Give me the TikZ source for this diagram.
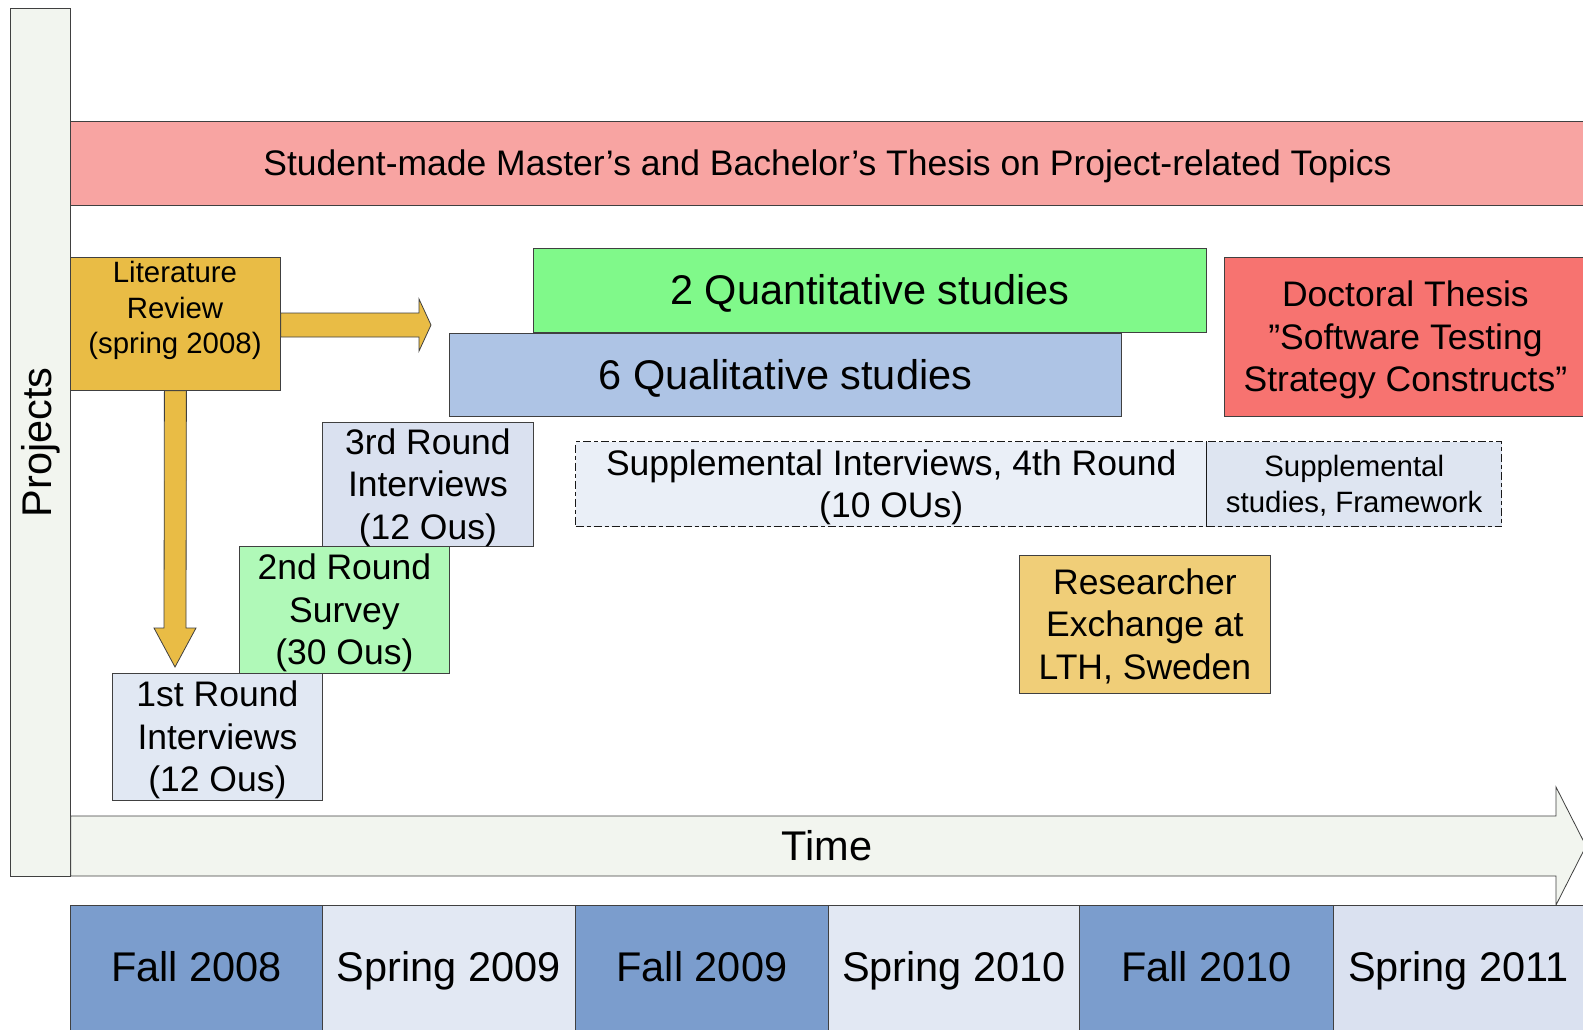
\documentclass[tikz,border=0pt]{standalone}
\usepackage{fontspec}
\setmainfont{Liberation Sans}
\definecolor{bgc}{HTML}{F2F5EF}
\definecolor{pinkband}{HTML}{F8A4A2}
\definecolor{gold}{HTML}{E9BC45}
\definecolor{quantc}{HTML}{80F98A}
\definecolor{qualc}{HTML}{AEC4E5}
\definecolor{doctc}{HTML}{F77370}
\definecolor{roundthree}{HTML}{DAE1F0}
\definecolor{roundone}{HTML}{E1E8F3}
\definecolor{roundtwo}{HTML}{B0F9B8}
\definecolor{resexc}{HTML}{F0CE78}
\definecolor{fallc}{HTML}{7B9DCD}
\definecolor{springc}{HTML}{E2E8F3}
\definecolor{supl}{HTML}{EAEFF7}
\definecolor{supr}{HTML}{DEE5F1}
\definecolor{linec}{HTML}{404040}
\newcommand\pstr{\rule[-0.212em]{0pt}{1.117em}}
\newcommand\semlbl[1]{\raisebox{3pt}[0.905em][0.212em]{#1}}
\begin{document}
\begin{tikzpicture}[x=1pt,y=-1pt,
  box/.style={draw=linec, line width=0.8pt, rectangle, inner sep=0pt, anchor=north west, align=center},
  fbig/.style={font=\fontsize{41.5pt}{48pt}\selectfont},
  fmid/.style={font=\fontsize{35.5pt}{42.4pt}\selectfont},
  fsmall/.style={font=\fontsize{29.4pt}{35.5pt}\selectfont},
  blockarrow/.style={draw=linec, line width=0.8pt, line join=miter},
  dashbox/.style={draw=black!90, line width=1.4pt, dash pattern=on 8pt off 3pt on 4pt off 3pt}]
\clip (0,0) rectangle (1583,1029);
\fill[white] (0,0) rectangle (1583,1029);

% projects bar
\node[box, fill=bgc, minimum width=60pt, minimum height=868pt] (projbar) at (10,8) {};
\node[fbig, rotate=90] (projlbl) at (projbar.center) {Projects};

% time arrow
\coordinate (ttip) at (1586,846);
\coordinate (tbase) at (projbar.east |- ttip);
\draw[blockarrow, fill=bgc] ([yshift=30pt]tbase) -- ([xshift=-30pt,yshift=30pt]ttip) -- ([xshift=-30pt,yshift=59pt]ttip) -- (ttip) -- ([xshift=-30pt,yshift=-59pt]ttip) -- ([xshift=-30pt,yshift=-30pt]ttip) -- ([yshift=-30pt]tbase) -- cycle;
\node[fbig] (timelbl) at (827,846) {\pstr Time};

% pink band
\node[box, fill=pinkband, minimum width=1514pt, minimum height=84pt, fmid] (band) at (70,121) {\pstr Student-made Master’s and Bachelor’s Thesis on Project-related Topics};

% literature review
\node[box, fill=gold, minimum width=210pt, minimum height=133pt] (lit) at (70,257) {};
\node[fsmall, align=center] (littxt) at (175,308) {\pstr Literature\\\pstr Review\\\pstr (spring 2008)};

% right block arrow
\coordinate (rtip) at (431,325);
\coordinate (rbase) at (lit.east |- rtip);
\draw[blockarrow, fill=gold] ([yshift=12pt]rbase) -- ([xshift=-12pt,yshift=12pt]rtip) -- ([xshift=-12pt,yshift=26pt]rtip) -- (rtip) -- ([xshift=-12pt,yshift=-26pt]rtip) -- ([xshift=-12pt,yshift=-12pt]rtip) -- ([yshift=-12pt]rbase) -- cycle;

% down block arrow
\coordinate (dtip) at (175,667);
\draw[blockarrow, fill=gold] ([xshift=-11pt]lit.south) -- ([xshift=-11pt,yshift=39pt]dtip) -- ([xshift=-21pt,yshift=39pt]dtip) -- (dtip) -- ([xshift=21pt,yshift=39pt]dtip) -- ([xshift=11pt,yshift=39pt]dtip) -- ([xshift=11pt]lit.south) -- cycle;

% rounds
\node[box, fill=roundone, minimum width=210pt, minimum height=127pt, fmid] (r1) at (112,673) {\pstr 1st Round\\\pstr Interviews\\\pstr (12 Ous)};
\node[box, fill=roundtwo, minimum width=210pt, minimum height=127pt, fmid] (r2) at (239,546) {\pstr 2nd Round\\\pstr Survey\\\pstr (30 Ous)};
\node[box, fill=roundthree, minimum width=211pt, minimum height=124pt, fmid] (r3) at (322,422) {\pstr 3rd Round\\\pstr Interviews\\\pstr (12 Ous)};

% studies
\node[box, fill=quantc, minimum width=673pt, minimum height=84pt, fbig] (quant) at (533,248) {\pstr 2 Quantitative studies};
\node[box, fill=qualc, minimum width=672pt, minimum height=83pt, fbig] (qual) at (449,333) {\pstr 6 Qualitative studies};

% doctoral thesis
\node[box, fill=doctc, minimum width=362pt, minimum height=159pt, fmid] (doct) at (1224,257) {\pstr Doctoral Thesis\\\pstr ”Software Testing\\\pstr Strategy Constructs”};

% supplemental
\node[box, dashbox, fill=supl, minimum width=631pt, minimum height=85pt, fmid] (supint) at (575,441) {\pstr Supplemental Interviews, 4th Round\\\pstr (10 OUs)};
\node[box, dashbox, fill=supr, minimum width=295pt, minimum height=85pt, fsmall] (supstud) at (1206,441) {\pstr Supplemental\\\pstr studies, Framework};

% researcher exchange
\node[box, fill=resexc, minimum width=251pt, minimum height=138pt, fmid] (resex) at (1019,555) {\pstr Researcher\\\pstr Exchange at\\\pstr LTH, Sweden};

% semesters
\node[box, fill=fallc, minimum width=252pt, minimum height=130pt, fbig] (s1) at (70,905) {\semlbl{Fall 2008}};
\node[box, fill=springc, minimum width=253pt, minimum height=130pt, fbig] (s2) at (322,905) {\semlbl{Spring 2009}};
\node[box, fill=fallc, minimum width=253pt, minimum height=130pt, fbig] (s3) at (575,905) {\semlbl{Fall 2009}};
\node[box, fill=springc, minimum width=251pt, minimum height=130pt, fbig] (s4) at (828,905) {\semlbl{Spring 2010}};
\node[box, fill=fallc, minimum width=254pt, minimum height=130pt, fbig] (s5) at (1079,905) {\semlbl{Fall 2010}};
\node[box, fill=roundthree, minimum width=250pt, minimum height=130pt, fbig] (s6) at (1333,905) {\semlbl{Spring 2011}};
\end{tikzpicture}
\end{document}
